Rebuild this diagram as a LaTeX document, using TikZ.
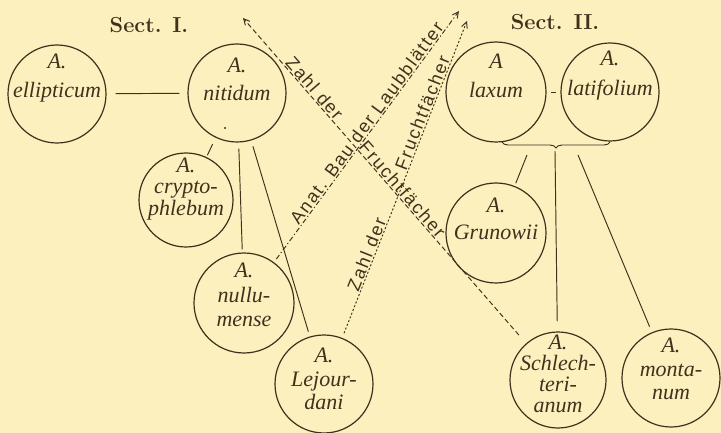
\documentclass[tikz,border=0pt]{standalone}
\usepackage{fontspec}
\usetikzlibrary{arrows.meta,decorations.pathreplacing}
\newfontfamily\labfont{Liberation Serif}
\newfontfamily\dlfont{Liberation Sans}[LetterSpace=10]
\definecolor{bg}{RGB}{252,240,190}
\definecolor{ink}{RGB}{64,49,28}
\tikzset{
  species/.style={circle, draw=ink, line width=1.2pt, inner sep=0pt, minimum size=#1},
  lt/.style={font=\labfont\itshape\fontsize{22}{#1}\selectfont, align=center, inner sep=0pt, text=ink},
  conn/.style={draw=ink, line width=0.95pt},
  dl/.style={font=\dlfont\fontsize{18}{20}\selectfont, text=ink, inner sep=1pt, sloped, above},
  dashone/.style={dash pattern=on 5pt off 3pt},
  dashtwo/.style={dash pattern=on 5pt off 2.5pt on 1.2pt off 2.5pt},
  dashthree/.style={dash pattern=on 2pt off 2pt},
  arrowend/.style={-{Straight Barb[length=6pt,width=6pt]}},
  sect/.style={font=\fontsize{21.7}{24}\selectfont\bfseries, text=ink, inner sep=0pt}
}
\begin{document}
\begin{tikzpicture}[x=1pt,y=-1pt]
\fill[bg] (0,0) rectangle (721,433);
\useasboundingbox (0,0) rectangle (721,433);

% section titles
\node[sect, anchor=base] (s1) at (149,33) {Sect. I.};
\node[sect, anchor=base] (s2) at (555,30) {Sect. II.};

% species circles
\node[species=98pt, label={[lt=29, yshift=16pt]center:{A.\\ellipticum}}] (ell) at (57,94) {};
\node[species=98pt, label={[lt=28, yshift=14pt]center:{A.\\nitidum}}] (nit) at (237,93) {};
\node[species=94pt, label={[lt=21.5, yshift=11pt]center:{A.\\crypto-\\phlebum}}] (cry) at (186,200) {};
\node[species=100pt, label={[lt=24.5, yshift=8pt]center:{A.\\nullu-\\mense}}] (nul) at (244,303) {};
\node[species=98pt, label={[lt=23.5, yshift=5pt]center:{A.\\Lejour-\\dani}}] (lej) at (324,384) {};
\node[species=100pt, label={[lt=29, yshift=16pt]center:{A\\laxum}}] (lax) at (496,92) {};
\node[species=98pt, label={[lt=30, yshift=16pt]center:{A.\\latifolium}}] (lat) at (610,92) {};
\node[species=100pt, label={[lt=27.5, yshift=14pt]center:{A.\\Grunowii}}] (gru) at (496,233) {};
\node[species=96pt, label={[lt=21, yshift=6pt]center:{A.\\Schlech-\\teri-\\anum}}] (sch) at (558,380) {};
\node[species=98pt, label={[lt=23.5, yshift=9pt]center:{A.\\monta-\\num}}] (mon) at (671,378) {};

% stray dot
\fill[ink] (225,128) circle (1.1pt);

% solid connectors
\draw[conn, shorten <=9pt, shorten >=8pt] (ell) -- (nit);
\draw[conn, shorten <=7pt, shorten >=2pt] (nit) -- (cry);
\draw[conn, shorten <=6pt, shorten >=3pt] (nit) -- (nul);
\draw[conn, shorten <=6pt, shorten >=5pt] (nit) -- (lej);
\draw[conn, shorten <=4.5pt, shorten >=4.5pt] (lax) -- (lat);

% brace
\coordinate (bl) at (502,142);
\coordinate (br) at (610,142);
\draw[conn, decorate, decoration={brace, mirror, amplitude=6pt}] (bl) -- (br);
\coordinate (b1) at (527,155);
\coordinate (bt) at (555,151);
\coordinate (b3) at (578,155);
\draw[conn, shorten >=3pt] (b1) -- (gru);
\draw[conn, shorten >=10pt] (bt) -- (sch);
\draw[conn, shorten >=6pt] (b3) -- (mon);

% arrow tips
\coordinate (t1) at (243,18);
\coordinate (t2) at (459,11);
\coordinate (t3) at (467,21);

% dashed character lines
\draw[conn, dashone, arrowend, shorten <=11pt] (sch) -- (t1)
  node[dl, pos=0.458] {Fruchtfächer}
  node[dl, pos=0.768] {Zahl der};
\draw[conn, dashtwo, arrowend, shorten <=4pt] (nul) -- (t2)
  node[dl, pos=0.535] {Anat. Bau der Laubblätter};
\draw[conn, dashthree, arrowend, shorten <=5pt] (lej) -- (t3)
  node[dl, pos=0.255] {Zahl der}
  node[dl, pos=0.702] {Fruchtfächer};
\end{tikzpicture}
\end{document}
